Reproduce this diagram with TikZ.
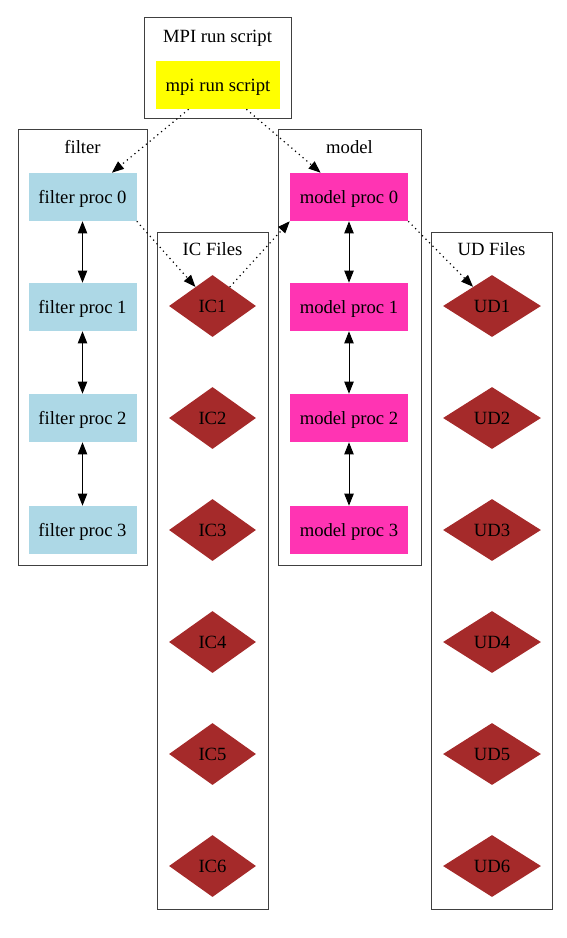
\documentclass[tikz,border=0pt]{standalone}
\usepackage{fontspec}
\setmainfont{Liberation Serif}
\usetikzlibrary{shapes.geometric,arrows.meta}
\definecolor{lblue}{HTML}{ADD8E6}
\definecolor{maroonone}{HTML}{FF34B3}
\definecolor{gvbrown}{HTML}{A52A2A}
\definecolor{gvyellow}{HTML}{FFFF00}
\tikzset{
  every node/.style={font=\fontsize{14}{16}\selectfont, inner sep=0pt, text height=10pt, text depth=0pt},
  cluster/.style={draw=black!75, line width=0.75pt},
  clabel/.style={},
  fproc/.style={rectangle, fill=lblue, minimum width=81pt, minimum height=36pt},
  mproc/.style={rectangle, fill=maroonone, minimum width=88.5pt, minimum height=36pt},
  mpibox/.style={rectangle, fill=gvyellow, minimum width=93pt, minimum height=36pt},
  icfile/.style={diamond, fill=gvbrown, minimum width=65.25pt, minimum height=46.5pt},
  udfile/.style={diamond, fill=gvbrown, minimum width=73.5pt, minimum height=46.5pt},
  dotarrow/.style={line width=0.9pt, dash pattern=on 0.9pt off 2.8pt, -{Triangle[length=9pt,width=7pt]}},
  duplex/.style={line width=0.75pt, {Triangle[length=9pt,width=7pt]}-{Triangle[length=9pt,width=7pt]}},
}
\begin{document}
\begin{tikzpicture}[x=0.75pt,y=-0.75pt]
\useasboundingbox (0,0) rectangle (567,938);
% clusters
\draw[cluster] (144,18) rectangle (291,119);
\node[clabel] (lmpi) at (217.5,36) {MPI run script};
\draw[cluster] (18,130) rectangle (147,565);
\node[clabel] (lfilter) at (82.5,147) {filter};
\draw[cluster] (278,130) rectangle (421,565);
\node[clabel] (lmodel) at (349.5,147) {model};
\draw[cluster] (157,232) rectangle (268,909);
\node[clabel] (lic) at (212.5,249) {IC Files};
\draw[cluster] (431,232) rectangle (552,909);
\node[clabel] (lud) at (491.5,249) {UD Files};
% nodes
\node[mpibox] (mpi) at (218,85) {mpi run script};
\foreach \i/\y in {0/197,1/307,2/418,3/530}{
  \node[fproc] (f\i) at (82.5,\y) {filter proc \i};
  \node[mproc] (m\i) at (349,\y) {model proc \i};
}
\foreach \i/\y in {1/306,2/418,3/530,4/642,5/754,6/866}{
  \node[icfile] (ic\i) at (212.5,\y) {IC\i};
  \node[udfile] (ud\i) at (492,\y) {UD\i};
}
% edges
\draw[dotarrow] (mpi) -- (f0);
\draw[dotarrow] (mpi) -- (m0);
\draw[dotarrow] (f0.south east) -- (ic1);
\draw[dotarrow] (ic1) -- (m0.south west);
\draw[dotarrow] (m0.south east) -- (ud1);
\draw[duplex] (f0) -- (f1);
\draw[duplex] (f1) -- (f2);
\draw[duplex] (f2) -- (f3);
\draw[duplex] (m0) -- (m1);
\draw[duplex] (m1) -- (m2);
\draw[duplex] (m2) -- (m3);
\end{tikzpicture}
\end{document}
